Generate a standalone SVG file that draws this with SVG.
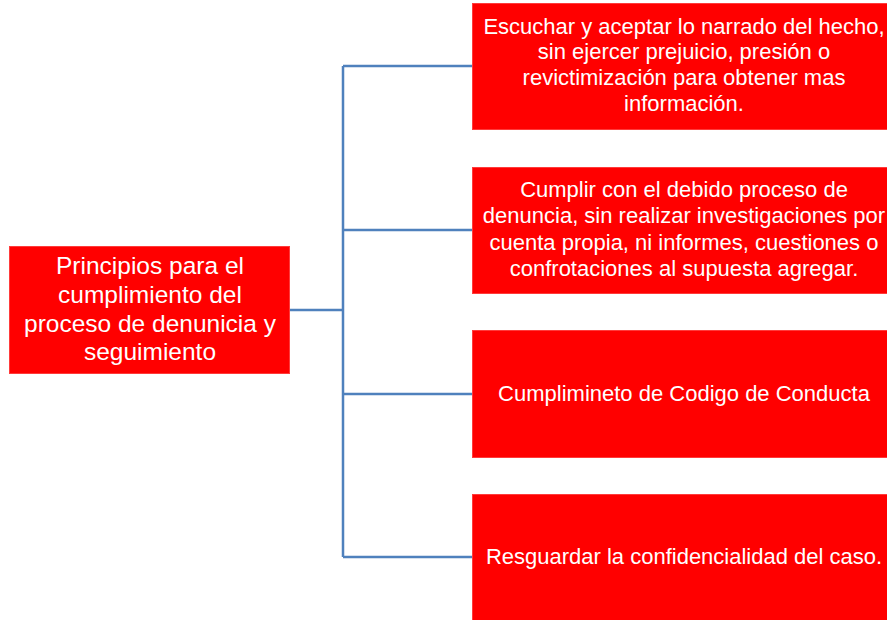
<svg xmlns="http://www.w3.org/2000/svg" width="887" height="620" viewBox="0 0 887 620">
<style>
.box{fill:#ff0000;stroke:#ff3b3b;stroke-width:1}
.t{font-family:"Liberation Sans",Arial,sans-serif;fill:#ffffff;text-anchor:middle}
.r{font-size:22px}
.l{font-size:24.5px}
.c{fill:none;stroke:#4f81bd;stroke-width:2.5}
</style>
<rect width="887" height="620" fill="#ffffff"/>
<g id="connectors">
<path class="c" d="M290 310 H343 M343 66 V557 M343 66 H472 M343 230 H472 M343 394 H472 M343 557 H472"/>
</g>
<g id="root">
<rect class="box" x="9.5" y="246.5" width="280" height="127"/>
<text class="t l" x="150" y="274">Principios para el</text>
<text class="t l" x="150" y="303">cumplimiento del</text>
<text class="t l" x="150" y="332">proceso de denunicia y</text>
<text class="t l" x="150" y="360">seguimiento</text>
</g>
<g id="n1">
<rect class="box" x="472.5" y="3.5" width="424" height="126"/>
<text class="t r" x="684" y="34">Escuchar y aceptar lo narrado del hecho,</text>
<text class="t r" x="684" y="59">sin ejercer prejuicio, presión o</text>
<text class="t r" x="684" y="85">revictimización para obtener mas</text>
<text class="t r" x="684" y="111">información.</text>
</g>
<g id="n2">
<rect class="box" x="472.5" y="167.5" width="424" height="126"/>
<text class="t r" x="684" y="197">Cumplir con el debido proceso de</text>
<text class="t r" x="684" y="223">denuncia, sin realizar investigaciones por</text>
<text class="t r" x="684" y="250">cuenta propia, ni informes, cuestiones o</text>
<text class="t r" x="684" y="276">confrotaciones al supuesta agregar.</text>
</g>
<g id="n3">
<rect class="box" x="472.5" y="330.5" width="424" height="127"/>
<text class="t r" x="684" y="401">Cumplimineto de Codigo de Conducta</text>
</g>
<g id="n4">
<rect class="box" x="472.5" y="494.5" width="424" height="140"/>
<text class="t r" x="684" y="564">Resguardar la confidencialidad del caso.</text>
</g>
</svg>
